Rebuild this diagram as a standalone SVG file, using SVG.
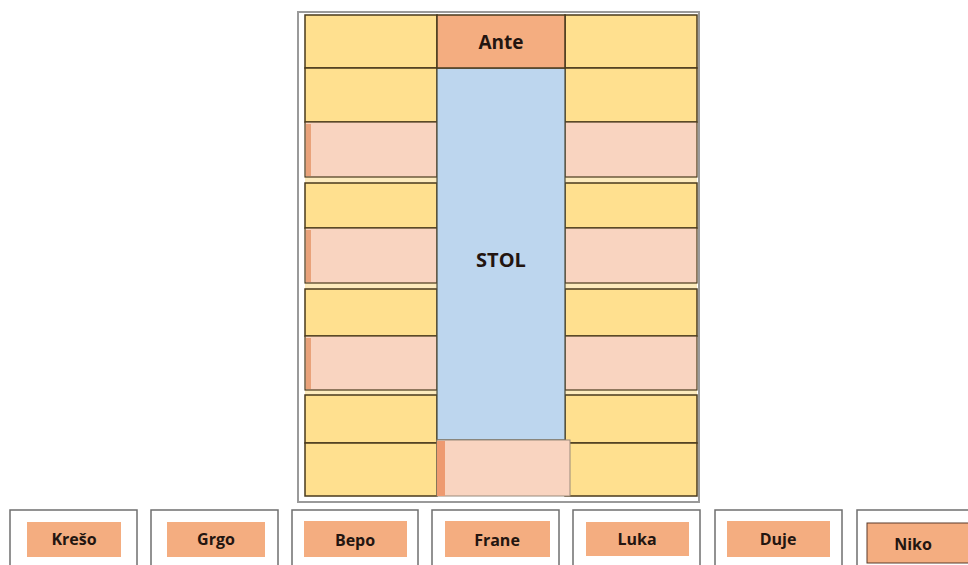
<svg xmlns="http://www.w3.org/2000/svg" width="968" height="565" viewBox="0 0 968 565">
<style>
.y{fill:#ffe08f;stroke:#4a3a1c;stroke-width:1.5}
.p{fill:#f9d4c0;stroke:#4a3a1c;stroke-width:1.2}
.o{fill:#f4ad80}
.t{fill:#bdd6ee;stroke:#4a4a3a;stroke-width:1.2}
.box{fill:#fff;stroke:#6f6f6f;stroke-width:1.5}
.lbl{font-family:"Open Sans","Liberation Sans",sans-serif;font-weight:bold;font-size:16px;fill:#231510;text-anchor:middle}
</style>
<rect width="968" height="565" fill="#fff"/>
<g id="frame"><rect x="298" y="12" width="401" height="490" fill="#fff" stroke="#9a9a9a" stroke-width="2"/></g>
<g id="left-seats">
<rect class="y" x="305" y="15" width="132" height="53"/>
<rect class="y" x="305" y="68" width="132" height="54"/>
<rect x="305" y="177" width="132" height="7" fill="#fdebbd"/>
<rect class="p" x="305" y="122" width="132" height="55"/>
<rect class="y" x="305" y="183" width="132" height="45"/>
<rect x="305" y="283" width="132" height="6" fill="#fdebbd"/>
<rect class="p" x="305" y="228" width="132" height="55"/>
<rect class="y" x="305" y="289" width="132" height="47"/>
<rect x="305" y="390" width="132" height="6" fill="#fdebbd"/>
<rect class="p" x="305" y="336" width="132" height="54"/>
<rect class="y" x="305" y="395" width="132" height="48"/>
<rect class="y" x="305" y="443" width="132" height="53"/>
<rect x="306" y="124" width="5" height="52" fill="#e9a27a"/>
<rect x="306" y="230" width="5" height="52" fill="#e9a27a"/>
<rect x="306" y="338" width="5" height="51" fill="#e9a27a"/>
</g>
<g id="right-seats">
<rect class="y" x="565" y="15" width="132" height="53"/>
<rect class="y" x="565" y="68" width="132" height="54"/>
<rect x="565" y="177" width="132" height="7" fill="#fdebbd"/>
<rect class="p" x="565" y="122" width="132" height="55"/>
<rect class="y" x="565" y="183" width="132" height="45"/>
<rect x="565" y="283" width="132" height="6" fill="#fdebbd"/>
<rect class="p" x="565" y="228" width="132" height="55"/>
<rect class="y" x="565" y="289" width="132" height="47"/>
<rect x="565" y="390" width="132" height="6" fill="#fdebbd"/>
<rect class="p" x="565" y="336" width="132" height="54"/>
<rect class="y" x="565" y="395" width="132" height="48"/>
<rect class="y" x="565" y="443" width="132" height="53"/>
</g>
<g id="table">
<rect class="t" x="437" y="68" width="128" height="372"/>
<text class="lbl" x="501" y="267" style="font-size:20px">STOL</text>
</g>
<g id="ante">
<rect x="437" y="15" width="128" height="53" fill="#f4ad80" stroke="#4a3a1c" stroke-width="1.5"/>
<text class="lbl" x="501" y="49" style="font-size:19px">Ante</text>
</g>
<g id="bottom-seat">
<rect x="437" y="440" width="133" height="56" fill="#f9d4c0" stroke="#9a8a7a" stroke-width="1"/>
<rect x="437" y="441" width="8" height="55" fill="#ee9a70"/>
</g>
<g id="kreso"><rect class="box" x="10" y="510" width="127" height="60"/><rect class="o" x="27" y="522" width="94" height="35"/><text class="lbl" x="74" y="545">Krešo</text></g>
<g id="grgo"><rect class="box" x="151" y="510" width="127" height="60"/><rect class="o" x="167" y="522" width="98" height="35"/><text class="lbl" x="216" y="545">Grgo</text></g>
<g id="bepo"><rect class="box" x="292" y="510" width="126" height="60"/><rect class="o" x="304" y="521" width="103" height="36"/><text class="lbl" x="355" y="546">Bepo</text></g>
<g id="frane"><rect class="box" x="432" y="510" width="127" height="60"/><rect class="o" x="445" y="521" width="105" height="36"/><text class="lbl" x="497" y="546">Frane</text></g>
<g id="luka"><rect class="box" x="573" y="510" width="127" height="60"/><rect class="o" x="586" y="522" width="103" height="34"/><text class="lbl" x="637" y="545">Luka</text></g>
<g id="duje"><rect class="box" x="715" y="510" width="127" height="60"/><rect class="o" x="727" y="521" width="103" height="36"/><text class="lbl" x="778" y="545">Duje</text></g>
<g id="niko"><rect class="box" x="857" y="510" width="120" height="60"/><rect class="o" x="867" y="523" width="110" height="40" stroke="#5a3a2a" stroke-width="1"/><text class="lbl" x="913" y="550">Niko</text></g>
</svg>
